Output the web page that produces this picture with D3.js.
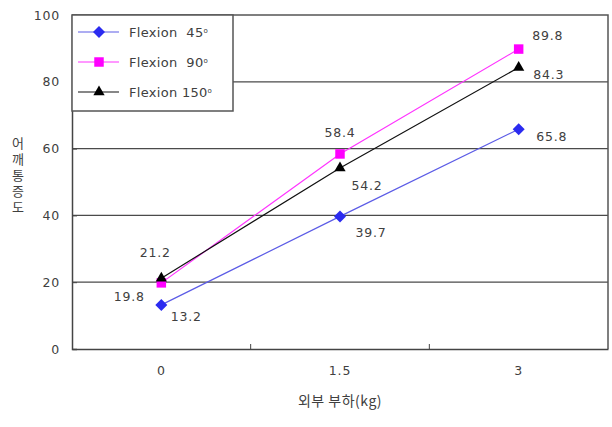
<!DOCTYPE html>
<html>
<head>
<meta charset="utf-8">
<script src="https://cdn.jsdelivr.net/npm/d3@7/dist/d3.min.js"></script>
<style>
  html, body { margin: 0; padding: 0; background: #fff; }
  svg { display: block; }
  text { font-family: "DejaVu Sans", "Liberation Sans", Arial, sans-serif; fill: #404040; }
</style>
</head>
<body>
<svg id="chart" width="612" height="427"></svg>
<script>
// Load categories (kg) and pain scores per flexion angle
const categories = ["0", "1.5", "3"];
const flexion45 = [13.2, 39.7, 65.8];
const flexion90 = [19.8, 58.4, 89.8];
const flexion150 = [21.2, 54.2, 84.3];
const yTicks = [0, 20, 40, 60, 80, 100];
const seriesNames = ["Flexion  45", "Flexion  90", "Flexion 150"];

// Where each value label sits relative to its point (dx, dy)
const labelOffsets = [
  [[25, 12], [31, 16], [33, 7]],
  [[-32, 14], [0, -21], [29, -13]],
  [[-6, -26], [27, 18], [30, 7]]
];

// Rhombus marker as wide as it is tall
const rhombus = {
  draw(ctx, size) {
    const r = Math.sqrt(size / 2);
    ctx.moveTo(0, -r); ctx.lineTo(r, 0); ctx.lineTo(0, r); ctx.lineTo(-r, 0); ctx.closePath();
  }
};

const series = [
  { name: seriesNames[0], values: flexion45, color: "#2b2bf0", line: "#5c5ce6", symbol: rhombus, size: 72 },
  { name: seriesNames[1], values: flexion90, color: "#ff00ff", line: "#ff33ff", symbol: d3.symbolSquare, size: 90 },
  { name: seriesNames[2], values: flexion150, color: "#000000", line: "#111111", symbol: d3.symbolTriangle, size: 55 }
];

const svg = d3.select("#chart");
const plotLeft = 72, plotRight = 608, plotTop = 15, plotBottom = 349;

const x = d3.scaleBand().domain(categories).range([plotLeft, plotRight]).padding(0);
const y = d3.scaleLinear().domain([0, 100]).range([plotBottom, plotTop]);
const cx = c => x(c) + x.bandwidth() / 2;

// Horizontal gridlines
svg.append("g").selectAll("line")
  .data(yTicks.filter(t => t > 0 && t < 100))
  .join("line")
  .attr("x1", plotLeft).attr("x2", plotRight)
  .attr("y1", d => y(d)).attr("y2", d => y(d))
  .attr("stroke", "#4a4a4a").attr("stroke-width", 1.2);

// Plot frame (top and right)
svg.append("path")
  .attr("d", `M${plotLeft},${plotTop}H${plotRight}V${plotBottom}`)
  .attr("fill", "none").attr("stroke", "#555").attr("stroke-width", 1.5);

const numFont = sel => sel.attr("font-size", 12.5).attr("fill", "#404040")
  .attr("letter-spacing", 0.8)
  .style("font-family", "'DejaVu Sans', Arial, sans-serif");

// Y axis
const yAxis = svg.append("g")
  .attr("transform", `translate(${plotLeft},0)`)
  .call(d3.axisLeft(y).tickValues(yTicks).tickSize(-5).tickPadding(12));
yAxis.select(".domain").attr("stroke", "#444").attr("stroke-width", 1.5);
yAxis.selectAll(".tick line").attr("stroke", "#444");
yAxis.selectAll(".tick text").call(numFont);

// X axis with ticks between categories
const xAxis = svg.append("g")
  .attr("transform", `translate(0,${plotBottom})`)
  .call(d3.axisBottom(x).tickSize(0).tickPadding(17));
xAxis.select(".domain").attr("stroke", "#444").attr("stroke-width", 1.5);
xAxis.selectAll(".tick text").call(numFont);
svg.append("g").selectAll("line")
  .data(categories.slice(1))
  .join("line")
  .attr("x1", d => x(d)).attr("x2", d => x(d))
  .attr("y1", plotBottom).attr("y2", plotBottom - 5)
  .attr("stroke", "#444");

// Axis titles
svg.append("text")
  .attr("x", cx(categories[1])).attr("y", 406)
  .attr("text-anchor", "middle").attr("font-size", 14).attr("letter-spacing", 0.5)
  .style("font-family", "'Noto Sans CJK KR', sans-serif")
  .text("외부 부하(kg)");

// Vertical y title, characters stacked upright
svg.append("text")
  .attr("x", 18).attr("y", 177)
  .attr("text-anchor", "middle").attr("font-size", 13).attr("letter-spacing", 3)
  .style("font-family", "'Noto Sans CJK KR', sans-serif")
  .style("writing-mode", "vertical-rl")
  .style("text-orientation", "upright")
  .text("어깨통증도");

// Series lines, markers, labels
const line = d3.line().x((d, i) => cx(categories[i])).y(d => y(d));
series.forEach(s => {
  svg.append("path")
    .datum(s.values)
    .attr("d", line)
    .attr("fill", "none").attr("stroke", s.line).attr("stroke-width", 1.2);
});
series.forEach(s => {
  svg.append("g").selectAll("path")
    .data(s.values)
    .join("path")
    .attr("transform", (d, i) => `translate(${cx(categories[i])},${y(d)})`)
    .attr("d", d3.symbol().type(s.symbol).size(s.size))
    .attr("fill", s.color);
});
series.forEach((s, si) => {
  svg.append("g").selectAll("text")
    .data(s.values)
    .join("text")
    .attr("x", (d, i) => cx(categories[i]) + labelOffsets[si][i][0])
    .attr("y", (d, i) => y(d) + labelOffsets[si][i][1])
    .attr("dy", "0.35em")
    .attr("text-anchor", "middle")
    .call(numFont)
    .text(d => d.toFixed(1));
});

// Legend
const lg = svg.append("g");
lg.append("rect")
  .attr("x", plotLeft).attr("y", plotTop).attr("width", 161).attr("height", 96)
  .attr("fill", "#fff").attr("stroke", "#555").attr("stroke-width", 1.5);
series.forEach((s, i) => {
  const ly = 32 + i * 30;
  lg.append("line").attr("x1", 78).attr("x2", 119).attr("y1", ly).attr("y2", ly)
    .attr("stroke", s.line).attr("stroke-width", 1.2);
  lg.append("path")
    .attr("transform", `translate(99,${ly})`)
    .attr("d", d3.symbol().type(s.symbol).size(s.size))
    .attr("fill", s.color);
  const t = lg.append("text").attr("x", 129).attr("y", ly).attr("dy", "0.38em")
    .attr("font-size", 13).attr("letter-spacing", 0.3).attr("xml:space", "preserve");
  t.append("tspan").text(s.name);
  t.append("tspan").attr("dy", "-0.5em").attr("font-size", 7).text("o");
});
</script>
</body>
</html>
